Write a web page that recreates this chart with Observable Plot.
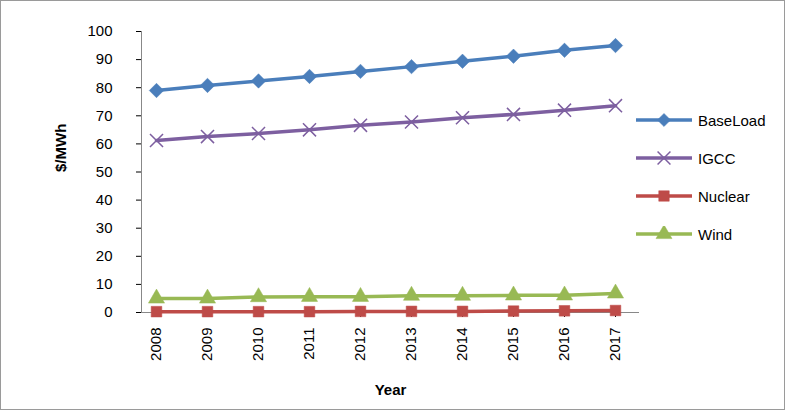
<!DOCTYPE html>
<html>
<head>
<meta charset="UTF-8">
<script src="https://cdn.jsdelivr.net/npm/d3@7"></script>
<script src="https://cdn.jsdelivr.net/npm/@observablehq/plot@0.6"></script>
<style>
  body { margin: 0; background: #fff; }
  #wrap { position: relative; width: 783px; height: 408px; border: 1px solid #9a9a9a; font-family: "Liberation Sans", Arial, sans-serif; }
  #legend { position: absolute; left: 635px; top: 100px; }
  .item { display: flex; align-items: center; height: 38px; font-size: 15px; }
  .item svg { margin-right: 6px; }
</style>
</head>
<body>
<div id="wrap"><div id="chart"></div><div id="legend"></div></div>
<script>
const years = [2008, 2009, 2010, 2011, 2012, 2013, 2014, 2015, 2016, 2017];
const baseLoad = [79, 80.8, 82.4, 84, 85.8, 87.5, 89.4, 91.2, 93.3, 95];
const igcc = [61.2, 62.6, 63.7, 65, 66.6, 67.8, 69.3, 70.5, 72, 73.6];
const nuclear = [0.3, 0.3, 0.3, 0.3, 0.4, 0.4, 0.4, 0.5, 0.6, 0.7];
const wind = [5, 5, 5.5, 5.6, 5.6, 6, 6, 6.1, 6.1, 6.8];

const series = [
  { name: "BaseLoad", values: baseLoad, color: "#4a7ebb", symbol: "diamond2" },
  { name: "IGCC", values: igcc, color: "#7d5fa0", symbol: "times" },
  { name: "Nuclear", values: nuclear, color: "#be4b48", symbol: "square" },
  { name: "Wind", values: wind, color: "#98b954", symbol: "triangle" }
];

const rows = series.flatMap(s => years.map((y, i) => ({ name: s.name, year: y, value: s.values[i] })));
const colorOf = Object.fromEntries(series.map(s => [s.name, s.color]));

const marks = [
  Plot.frame({ anchor: "left", stroke: "#888" }),
  Plot.axisY({ ticks: d3.range(0, 101, 10), tickSize: 5, tickPadding: 24, fontSize: 15, label: null }),
  Plot.axisX({ tickRotate: -90, tickSize: 5, tickPadding: 10, fontSize: 15, label: null, tickFormat: d => String(d) }),
  Plot.ruleY([0], { stroke: "#888" }),
  Plot.lineY(rows, { x: "year", y: "value", z: "name", stroke: d => colorOf[d.name], strokeWidth: 3.5 })
];
for (const s of series) {
  marks.push(Plot.dot(rows.filter(d => d.name === s.name), {
    x: "year", y: "value", symbol: () => s.symbol, r: s.symbol === "diamond2" ? 6.5 : 6,
    fill: s.symbol === "times" ? "none" : s.color, stroke: s.color, strokeWidth: s.symbol === "times" ? 1.5 : 0.5
  }));
}
marks.push(Plot.text(["Year"], { frameAnchor: "bottom", dy: 82, fontWeight: "bold", fontSize: 15 }));
marks.push(Plot.text(["$/MWh"], { frameAnchor: "left", dx: -80, rotate: -90, fontWeight: "bold", fontSize: 15 }));

const chart = Plot.plot({
  width: 783, height: 408,
  marginLeft: 140, marginRight: 145, marginTop: 30, marginBottom: 97,
  style: { fontFamily: "Liberation Sans, Arial, sans-serif", color: "#000" },
  x: { type: "point", domain: years, range: [153, 615], padding: 0 },
  y: { domain: [0, 100] },
  symbol: { type: "identity" },
  marks
});
document.querySelector("#chart").append(chart);

const leg = document.querySelector("#legend");
for (const s of series) {
  const sym = d3.symbol().type({ diamond2: d3.symbolDiamond2, times: d3.symbolTimes, square: d3.symbolSquare, triangle: d3.symbolTriangle }[s.symbol]).size(110)();
  const isX = s.symbol === "times";
  leg.insertAdjacentHTML("beforeend",
    `<div class="item"><svg width="56" height="16"><line x1="0" x2="56" y1="8" y2="8" stroke="${s.color}" stroke-width="3.5"/>
     <path d="${sym}" transform="translate(28,8)" fill="${isX ? "none" : s.color}" stroke="${s.color}" stroke-width="${isX ? 1.5 : 0.5}"/></svg>${s.name}</div>`);
}
</script>
</body>
</html>
